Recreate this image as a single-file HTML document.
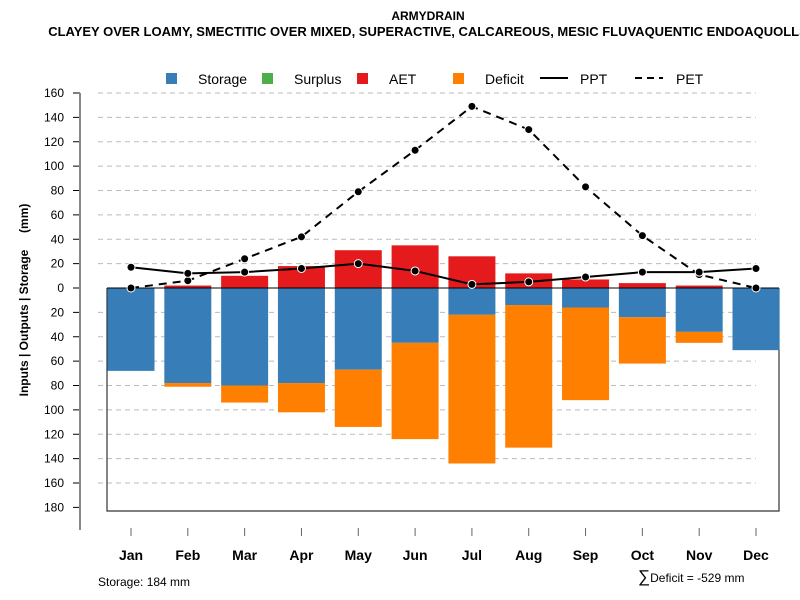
<!DOCTYPE html>
<html><head><meta charset="utf-8"><style>
body{margin:0;background:#fff}
svg{display:block;font-family:"Liberation Sans",sans-serif}
</style></head><body>
<svg id="c" width="800" height="600" xmlns="http://www.w3.org/2000/svg">
<text x="428" y="20" text-anchor="middle" font-weight="bold" font-size="12">ARMYDRAIN</text>
<text x="428" y="36" text-anchor="middle" font-weight="bold" font-size="13">CLAYEY OVER LOAMY, SMECTITIC OVER MIXED, SUPERACTIVE, CALCAREOUS, MESIC FLUVAQUENTIC ENDOAQUOLLS</text>
<g font-size="14">
<rect x="166" y="73" width="11" height="11" fill="#377eb8"/>
<text x="198" y="84">Storage</text>
<rect x="262" y="73" width="11" height="11" fill="#4daf4a"/>
<text x="294" y="84">Surplus</text>
<rect x="357" y="73" width="11" height="11" fill="#e41a1c"/>
<text x="389" y="84">AET</text>
<rect x="453" y="73" width="11" height="11" fill="#ff7f00"/>
<text x="485" y="84">Deficit</text>
<line x1="540" y1="78" x2="568" y2="78" stroke="#000" stroke-width="2"/>
<text x="580" y="84">PPT</text>
<line x1="635" y1="78" x2="663" y2="78" stroke="#000" stroke-width="2" stroke-dasharray="7,5"/>
<text x="676" y="84">PET</text>
</g>
<text transform="translate(28,300) rotate(-90)" text-anchor="middle" font-weight="bold" font-size="12" style="white-space:pre" xml:space="preserve">Inputs | Outputs | Storage     (mm)</text>
<text x="98" y="586" font-size="12">Storage: 184 mm</text>
<text x="638" y="582" font-size="12"><tspan font-size="17">∑</tspan>Deficit = -529 mm</text>
<g id="g"></g>
</svg>
<script>
const months=["Jan","Feb","Mar","Apr","May","Jun","Jul","Aug","Sep","Oct","Nov","Dec"];
const storage=[68,78,80,78,67,45,22,14,16,24,36,51];
const deficit=[0,3,14,24,47,79,122,117,76,38,9,0];
const aet=[0,2,10,18,31,35,26,12,7,4,2,0];
const ppt=[17,12,13,16,20,14,3,5,9,13,13,16];
const pet=[0,6,24,42,79,113,149,130,83,43,11,0];
const yTicks=[160,140,120,100,80,60,40,20,0,20,40,60,80,100,120,140,160,180];
const yTickSign=[1,1,1,1,1,1,1,1,0,-1,-1,-1,-1,-1,-1,-1,-1,-1];
const NS="http://www.w3.org/2000/svg";
const g=document.getElementById('g');
const y0=288,k=195/160;
function Y(v){return y0-v*k;}
function X(i){return 131+i*(756-131)/11;}
function el(t,a){const e=document.createElementNS(NS,t);for(const n in a)e.setAttribute(n,a[n]);g.appendChild(e);return e;}
yTicks.forEach((t,i)=>{const v=t*yTickSign[i];const y=Y(v);
 if(v!==0&&v>-180){const l=el('line',{x1:98,x2:756,y1:y,y2:y,stroke:'#bbb','stroke-dasharray':'5,4'});
 
 }
 const tk=el('line',{x1:73,x2:80,y1:y,y2:y,stroke:'#000'});
 
 
 const tx=el('text',{x:64,y:y+4,'text-anchor':'end','font-size':12});tx.textContent=t;
 
 
});
const ax=el('line',{x1:80,x2:80,y1:Y(160),y2:530,stroke:'#888','stroke-width':2});


const bx=el('path',{d:`M107,${y0} V511 H779 V${y0}`,fill:'none',stroke:'#333','stroke-width':1.2});


const bw=47;
months.forEach((m,i)=>{const x=X(i)-bw/2;
 const s=el('rect',{x:x,y:y0,width:bw,height:storage[i]*k,fill:'#377eb8'});
 
 
 if(deficit[i]>0){const d=el('rect',{x:x,y:Y(-storage[i]),width:bw,height:deficit[i]*k,fill:'#ff7f00'});
 
 }
 if(aet[i]>0){const a=el('rect',{x:x,y:Y(aet[i]),width:bw,height:aet[i]*k,fill:'#e41a1c'});
 
 }
 const t=el('line',{x1:X(i),x2:X(i),y1:528,y2:536,stroke:'#666'});
 
 
 const l=el('text',{x:X(i),y:560,'text-anchor':'middle','font-weight':'bold','font-size':14});l.textContent=m;
 
 
});
const zl=el('line',{x1:107,x2:779,y1:y0,y2:y0,stroke:'#000'});


function series(arr,name,dash){
 const p=el('polyline',{points:arr.map((v,i)=>X(i)+','+Y(v)).join(' '),fill:'none',stroke:'#000','stroke-width':2,'stroke-dasharray':dash});
 
 
 arr.forEach((v,i)=>{const c=el('circle',{cx:X(i),cy:Y(v),r:4,fill:'#000',stroke:'#fff','stroke-width':1});
 
 });
}
series(pet,'pet','8,6');
series(ppt,'ppt','none');
</script>
</body></html>
